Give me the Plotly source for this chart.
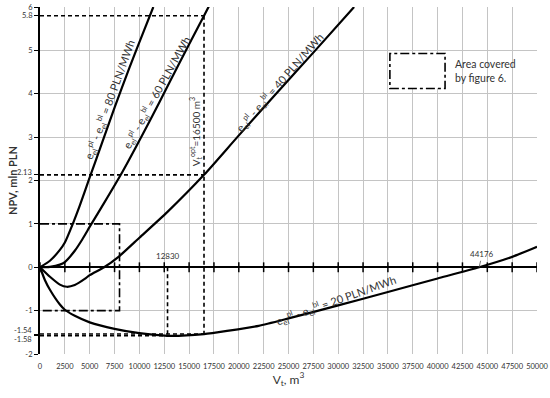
import plotly.graph_objects as go

# ---------------- data ----------------
x_80 = [0, 1000, 2000, 2500, 3300, 4000, 5000, 6000, 7500, 9000, 10500, 11400]
y_80 = [0, 0.15, 0.4, 0.57, 1.0, 1.42, 2.07, 2.71, 3.68, 4.6, 5.48, 6.0]

x_60 = [0, 1000, 2000, 2500, 3500, 4250, 5100, 6500, 8300, 10000, 12000, 14000, 16500, 17000]
y_60 = [0, 0.01, 0.06, 0.12, 0.38, 0.64, 0.97, 1.5, 2.2, 2.92, 3.8, 4.7, 5.8, 6.02]

x_40 = [0, 1000, 2000, 2700, 3500, 4500, 5000, 6450, 7900, 10000, 12800, 16500, 19850, 23750, 27700, 31600]
y_40 = [0, -0.22, -0.4, -0.45, -0.41, -0.27, -0.18, 0, 0.24, 0.68, 1.27, 2.13, 3.0, 4.0, 5.0, 6.0]

x_20 = [0, 500, 1000, 2000, 2500, 3500, 5000, 7500, 10000, 12830, 16500, 19000, 22000,
        25000, 30000, 35000, 40000, 44176, 47500, 50000]
y_20 = [0, -0.3, -0.52, -0.86, -0.98, -1.12, -1.27, -1.42, -1.52, -1.58, -1.54, -1.46, -1.35,
        -1.18, -0.88, -0.57, -0.26, 0, 0.24, 0.47]

V_OPT = 16500
NPV_OPT_60 = 5.8
NPV_OPT_40 = 2.13
NPV_OPT_20 = -1.54
V_MIN = 12830
NPV_MIN = -1.58
V_BREAKEVEN = 44176

AREA_X = [0, 8000]
AREA_Y = [-1, 1]

x_ticks = list(range(0, 50001, 2500))
y_ticks = [-2, -1.58, -1.54, -1, 0, 1, 2, 2.13, 3, 4, 5, 5.8, 6]
y_ticktext = ["-2", "", "", "-1", "0", "1", "2", "", "3", "4", "5", "5.8", "6"]
y_grid = [-2, -1, 1, 2, 3, 4, 5, 6]

FONT = "Lato"
TXT = "#333333"

fig = go.Figure()

curve = dict(mode="lines", line=dict(color="black", width=2.2, shape="spline", smoothing=0.6),
             showlegend=False, hoverinfo="skip")
for xs, ys in [(x_80, y_80), (x_60, y_60), (x_40, y_40), (x_20, y_20)]:
    fig.add_trace(go.Scatter(x=xs, y=ys, **curve))

dash = dict(mode="lines", line=dict(color="black", width=1.6, dash="4px,3px"),
            showlegend=False, hoverinfo="skip")
fig.add_trace(go.Scatter(x=[0, V_OPT], y=[NPV_OPT_60, NPV_OPT_60], **dash))
fig.add_trace(go.Scatter(x=[0, V_OPT], y=[NPV_OPT_40, NPV_OPT_40], **dash))
fig.add_trace(go.Scatter(x=[0, V_OPT], y=[NPV_OPT_20, NPV_OPT_20], **dash))
fig.add_trace(go.Scatter(x=[0, V_MIN], y=[NPV_MIN, NPV_MIN], **dash))
fig.add_trace(go.Scatter(x=[V_OPT, V_OPT], y=[NPV_OPT_60, NPV_OPT_20], **dash))
fig.add_trace(go.Scatter(x=[V_MIN, V_MIN], y=[0, NPV_MIN], **dash))

# area covered by figure 6 (dash-dot rectangle)
fig.add_trace(go.Scatter(
    x=[AREA_X[0], AREA_X[1], AREA_X[1], AREA_X[0]],
    y=[AREA_Y[1], AREA_Y[1], AREA_Y[0], AREA_Y[0]],
    mode="lines", line=dict(color="black", width=1.6, dash="dashdot"),
    showlegend=False, hoverinfo="skip"))

# tick marks on the zero line
fig.add_trace(go.Scatter(x=x_ticks, y=[0] * len(x_ticks), mode="markers",
                         marker=dict(symbol="line-ns", size=7, line=dict(color="black", width=1.5)),
                         showlegend=False, hoverinfo="skip"))

# legend-like box
fig.add_shape(type="rect", xref="paper", yref="paper", x0=0.704, x1=0.815, y0=0.765, y1=0.866,
              line=dict(color="black", width=1.6, dash="dashdot"), fillcolor="white")
fig.add_annotation(xref="paper", yref="paper", x=0.83, y=0.815, xanchor="left", yanchor="middle",
                   text="Area covered<br>by figure 6.", showarrow=False, align="left",
                   font=dict(family=FONT, size=10.5, color=TXT))

lbl = "e<sub>el</sub><sup>pl</sup> - e<sub>el</sub><sup>bl</sup> = {} PLN/MWh"
for val, x, y, ang in [(80, 7040, 3.86, -70), (60, 11770, 4.02, -61),
                       (40, 24140, 4.25, -49), (20, 29780, -0.76, -19.5)]:
    fig.add_annotation(x=x, y=y, text=lbl.format(val), textangle=ang, showarrow=False,
                       font=dict(family=FONT, size=11, color=TXT))

fig.add_annotation(x=15620, y=3.12, text="V<sub>t</sub><sup>opt</sup>=16500 m<sup>3</sup>",
                   textangle=-90, showarrow=False, font=dict(family=FONT, size=10, color=TXT))

fig.add_annotation(x=V_MIN, y=0.27, text=str(V_MIN), showarrow=False,
                   font=dict(family=FONT, size=8, color=TXT))
fig.add_annotation(x=V_BREAKEVEN, y=0, text=str(V_BREAKEVEN), showarrow=True, arrowhead=0,
                   arrowwidth=0.8, arrowcolor="#555", ax=3, ay=-13,
                   font=dict(family=FONT, size=8, color=TXT))

# crowded tick labels, nudged apart slightly
tick_font = dict(family=FONT, size=7.5, color=TXT)
fig.add_annotation(xref="paper", x=0, y=NPV_OPT_40, yshift=2, xshift=-6, xanchor="right",
                   text=str(NPV_OPT_40), showarrow=False, font=tick_font)
fig.add_annotation(xref="paper", x=0, y=NPV_OPT_20, yshift=4, xshift=-6, xanchor="right",
                   text=str(NPV_OPT_20), showarrow=False, font=tick_font)
fig.add_annotation(xref="paper", x=0, y=NPV_MIN, yshift=-4, xshift=-6, xanchor="right",
                   text=str(NPV_MIN), showarrow=False, font=tick_font)

fig.update_layout(
    width=550, height=398,
    margin=dict(l=40, r=13, t=7, b=44),
    paper_bgcolor="white", plot_bgcolor="white",
    font=dict(family=FONT, color=TXT),
    xaxis=dict(range=[0, 50000], tickvals=x_ticks, ticktext=[str(v) for v in x_ticks],
               automargin=False, tickangle=0,
               showgrid=True, gridcolor="#c4c4c4", gridwidth=1,
               zeroline=False, showline=False, ticks="", ticklabelstandoff=6,
               tickfont=dict(family=FONT, size=7.5, color=TXT),
               title=dict(text="V<sub>t</sub>, m<sup>3</sup>", font=dict(family=FONT, size=12, color=TXT),
                          standoff=2)),
    yaxis=dict(range=[-2, 6], tickvals=y_ticks, ticktext=y_ticktext, automargin=False,
               showgrid=False, zeroline=True, zerolinecolor="black", zerolinewidth=2,
               showline=True, linecolor="black", linewidth=2,
               ticks="outside", ticklen=4, tickcolor="black", tickwidth=1,
               tickfont=tick_font,
               minor=dict(tickmode="array", tickvals=y_grid, showgrid=True,
                          gridcolor="#c4c4c4", gridwidth=1, ticks=""),
               title=dict(text="<b>NPV, mln PLN</b>", font=dict(family=FONT, size=11, color=TXT),
                          standoff=2)),
)

fig.write_html("out.html", config={"displayModeBar": False},
               post_script="document.body.style.margin='0';document.body.style.padding='0';"
                           "document.body.style.overflow='hidden';")
